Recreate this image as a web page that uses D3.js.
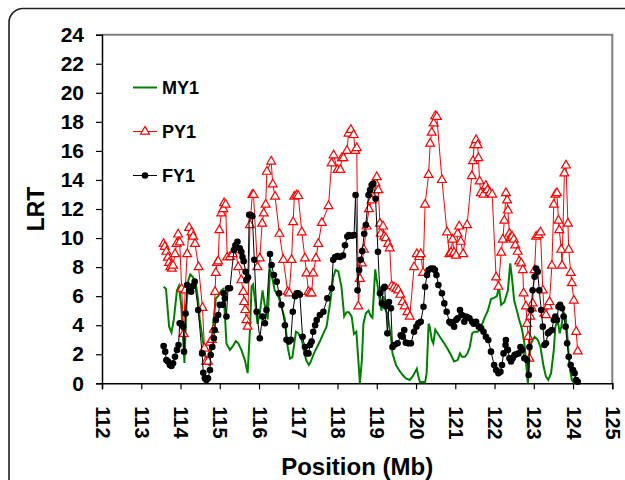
<!DOCTYPE html>
<html>
<head>
<meta charset="utf-8">
<script src="https://cdn.jsdelivr.net/npm/d3@7"></script>
<style>
  body { margin: 0; background: #fff; }
  svg { font-family: "Liberation Sans", Arial, sans-serif; font-weight: bold; }
</style>
</head>
<body>
<div id="chart"></div>
<script>
// MY1 (green line) - position Mb, LRT
var myPos = [113.57,113.63,113.71,113.77,113.83,113.91,113.96,114.02,114.06,114.1,114.15,114.2,114.25,114.32,114.39,114.45,114.49,114.58,114.62,114.66,114.72,114.8,114.9,114.96,115.04,115.09,115.13,115.17,115.26,115.32,115.41,115.47,115.55,115.64,115.71,115.77,115.81,115.85,115.9,115.96,116.02,116.09,116.15,116.22,116.28,116.35,116.4,116.49,116.57,116.66,116.73,116.79,116.85,116.9,116.94,117.0,117.09,117.13,117.2,117.27,117.32,117.4,117.48,117.57,117.64,117.72,117.81,117.89,117.95,118.02,118.1,118.17,118.23,118.29,118.36,118.42,118.48,118.53,118.57,118.62,118.66,118.72,118.79,118.85,118.89,118.93,118.96,119.0,119.06,119.12,119.17,119.23,119.27,119.31,119.36,119.4,119.49,119.57,119.66,119.74,119.84,119.91,119.98,120.02,120.06,120.1,120.17,120.23,120.27,120.32,120.35,120.4,120.44,120.49,120.55,120.63,120.72,120.8,120.89,120.97,121.06,121.12,121.17,121.25,121.31,121.37,121.43,121.49,121.57,121.66,121.74,121.83,121.91,122.0,122.06,122.11,122.17,122.25,122.34,122.4,122.45,122.5,122.57,122.63,122.7,122.76,122.8,122.85,122.89,122.93,123.02,123.1,123.17,123.25,123.31,123.37,123.44,123.51,123.55,123.61,123.66,123.7,123.76,123.81,123.85,123.91,123.97,124.04];
var myLrt = [6.65,6.5,3.9,3.5,4.4,6.4,6.7,5.3,3.4,1.4,5.3,7.1,7.5,7.3,6.9,5.7,4.4,2.75,2.1,1.5,1.3,3.2,5.85,6.0,6.4,6.5,4.8,2.75,2.3,2.5,2.9,2.75,2.3,1.6,0.7,3.7,6.65,6.8,5.7,4.1,4.8,6.4,5.3,4.4,7.9,7.1,6.4,6.0,5.3,4.4,2.5,1.7,1.8,2.75,3.55,3.45,3.0,2.5,1.6,1.26,1.5,2.06,2.5,3.0,3.44,3.9,5.5,7.3,7.8,7.7,6.65,4.6,4.9,4.9,4.6,3.4,3.55,1.6,0.0,1.6,4.1,4.8,5.0,4.6,4.5,6.4,7.85,7.1,6.0,5.0,6.0,5.0,4.8,4.1,3.2,2.06,1.26,0.9,0.57,0.34,0.23,0.46,0.8,1.0,0.46,0.07,0.1,0.05,0.7,4.1,3.9,3.0,2.75,3.7,3.44,3.1,2.75,2.4,1.95,1.5,1.6,2.06,1.83,1.83,2.06,2.5,3.44,3.55,3.55,3.9,4.47,5.0,5.8,5.9,6.0,6.65,5.4,5.6,6.4,8.26,7.1,5.7,5.0,4.36,3.7,2.75,1.5,0.0,1.83,2.75,3.2,3.0,2.5,1.15,0.46,0.23,0.7,2.3,3.9,4.36,3.44,3.9,4.9,4.6,3.44,1.15,0.23,0.0];

// PY1 (red triangles)
var pyPos = [113.57,113.6,113.64,113.68,113.71,113.74,113.78,113.81,113.86,113.9,113.94,113.98,114.03,114.08,114.12,114.17,114.22,114.28,114.32,114.37,114.46,114.56,114.61,114.65,114.7,114.75,114.8,114.85,114.88,114.9,114.93,114.96,114.99,115.04,115.09,115.11,115.15,115.19,115.26,115.33,115.4,115.47,115.55,115.6,115.62,115.65,115.68,115.71,115.77,115.83,115.86,115.96,116.02,116.08,116.12,116.17,116.2,116.31,116.35,116.41,116.52,116.62,116.73,116.77,116.83,116.87,116.9,116.96,117.0,117.09,117.17,117.21,117.26,117.3,117.34,117.38,117.45,117.51,117.6,117.77,117.85,117.9,118.0,118.07,118.11,118.15,118.24,118.28,118.34,118.41,118.45,118.49,118.53,118.57,118.62,118.67,118.74,118.8,118.87,118.93,118.97,119.0,119.04,119.08,119.1,119.16,119.19,119.23,119.29,119.33,119.38,119.44,119.5,119.55,119.6,119.66,119.71,119.78,119.84,119.95,120.02,120.08,120.12,120.18,120.23,120.32,120.36,120.4,120.45,120.49,120.53,120.66,120.79,120.85,120.89,120.93,120.97,121.02,121.06,121.1,121.14,121.2,121.3,121.42,121.45,121.48,121.53,121.57,121.59,121.62,121.65,121.72,121.78,121.82,121.88,121.94,122.04,122.1,122.17,122.21,122.25,122.29,122.32,122.34,122.38,122.4,122.45,122.49,122.53,122.59,122.63,122.68,122.72,122.74,122.8,122.83,122.86,122.89,122.91,122.95,122.97,123.02,123.06,123.12,123.17,123.23,123.27,123.31,123.36,123.4,123.46,123.51,123.55,123.59,123.63,123.65,123.7,123.72,123.78,123.82,123.87,123.89,123.94,123.97,124.02,124.08,124.12];
var pyLrt = [9.6,9.4,9.06,8.65,8.3,8.0,7.9,8.1,8.9,9.6,10.25,9.7,6.5,3.4,6.4,8.9,10.7,10.4,10.1,9.6,8.0,5.2,2.4,1.5,1.5,2.8,3.0,3.7,6.3,7.6,8.3,8.4,10.55,11.7,12.0,12.4,12.3,8.67,8.7,8.9,9.2,8.0,7.1,6.3,5.6,5.05,4.36,3.9,10.9,12.97,12.97,8.0,8.6,11.0,11.7,12.3,14.57,15.27,13.7,12.85,10.3,8.5,6.3,6.2,8.5,11.1,12.85,12.95,12.9,10.4,8.6,7.57,6.3,6.2,6.2,7.57,8.6,9.6,11.05,12.2,15.15,15.7,14.7,14.7,15.5,15.5,16.0,17.2,17.45,17.1,16.0,16.2,5.3,7.2,8.26,9.2,10.8,12.0,12.6,13.3,13.76,14.2,13.3,11.0,10.3,10.8,10.1,10.0,9.6,9.3,6.7,6.6,6.5,6.4,6.1,5.6,5.3,4.9,4.6,8.0,8.9,8.7,8.9,7.6,12.3,14.35,16.5,17.26,17.9,18.4,18.35,14.0,10.4,8.9,9.0,9.9,9.0,8.8,10.3,10.8,9.75,8.9,10.9,14.27,15.3,16.4,16.75,16.4,15.5,13.9,13.1,13.0,13.6,13.3,13.1,13.0,7.3,6.65,9.0,9.9,11.2,13.1,12.6,11.9,10.3,10.0,10.1,9.9,9.5,9.06,8.4,8.26,7.8,6.2,5.3,4.1,3.2,1.7,4.6,5.16,5.5,7.8,10.1,10.2,10.4,6.4,4.8,4.7,5.3,5.6,8.1,12.3,13.0,13.1,11.2,10.55,9.2,8.1,14.46,15.0,11.0,9.2,7.6,6.9,5.7,3.55,2.2];

// FY1 (black dots)
var fyPos = [113.57,113.61,113.64,113.68,113.73,113.77,113.81,113.86,113.91,113.95,113.98,114.02,114.07,114.09,114.13,114.17,114.22,114.27,114.32,114.36,114.45,114.55,114.58,114.62,114.66,114.7,114.75,114.77,114.81,114.85,114.87,114.9,114.96,115.0,115.07,115.1,115.13,115.17,115.21,115.26,115.36,115.4,115.45,115.51,115.55,115.58,115.61,115.66,115.68,115.72,115.75,115.78,115.83,115.88,115.94,116.02,116.09,116.15,116.19,116.28,116.32,116.38,116.45,116.51,116.57,116.66,116.7,116.76,116.81,116.86,116.92,116.96,117.0,117.04,117.11,117.17,117.21,117.26,117.3,117.34,117.38,117.43,117.47,117.55,117.64,117.74,117.85,117.89,117.94,118.0,118.06,118.14,118.19,118.25,118.29,118.36,118.42,118.46,118.51,118.55,118.59,118.63,118.68,118.72,118.79,118.83,118.87,118.91,118.97,119.03,119.08,119.13,119.17,119.2,119.23,119.27,119.31,119.36,119.4,119.44,119.53,119.61,119.66,119.7,119.74,119.8,119.87,119.95,120.01,120.06,120.12,120.19,120.23,120.28,120.32,120.38,120.44,120.48,120.52,120.57,120.66,120.72,120.78,120.85,120.89,120.93,120.97,121.02,121.06,121.12,121.17,121.23,121.27,121.31,121.36,121.43,121.47,121.53,121.6,121.66,121.72,121.78,121.84,121.91,121.99,122.04,122.1,122.15,122.19,122.23,122.28,122.29,122.34,122.38,122.42,122.46,122.51,122.55,122.61,122.66,122.7,122.76,122.83,122.87,122.89,122.93,122.97,123.02,123.06,123.1,123.14,123.19,123.23,123.27,123.31,123.36,123.4,123.46,123.51,123.55,123.59,123.63,123.67,123.72,123.76,123.81,123.85,123.89,123.94,124.0,124.04,124.08,124.12];
var fyLrt = [2.57,2.18,1.6,1.5,1.26,1.19,1.38,1.83,2.3,2.64,4.13,4.1,3.9,2.18,4.8,6.77,6.4,6.3,6.7,7.0,5.05,2.06,0.73,0.34,0.23,0.34,0.92,1.95,2.5,3.1,3.67,4.36,4.7,5.4,5.4,6.2,5.85,4.6,6.54,6.54,9.17,9.5,9.75,9.3,9.06,8.7,8.4,7.68,7.1,7.3,11.6,11.6,11.5,8.5,4.93,3.1,4.6,4.13,5.05,8.9,8.14,7.45,7.0,6.2,5.4,4.0,3.0,2.87,3.0,4.93,6.0,6.2,6.2,6.1,3.2,2.5,2.06,2.06,2.64,2.87,3.55,4.0,4.36,4.7,4.93,5.85,6.54,8.5,8.7,8.76,8.7,8.8,9.5,10.1,10.2,10.16,10.2,12.96,6.4,7.8,8.5,9.1,10.3,10.9,12.96,13.3,13.65,13.76,12.7,9.06,6.2,5.5,6.54,6.65,5.3,3.44,5.6,5.16,2.5,2.64,2.75,3.3,3.2,3.67,2.8,2.75,2.75,3.55,3.9,4.13,4.24,5.27,6.65,7.45,7.8,7.9,7.9,7.8,7.45,6.77,6.2,5.5,4.93,4.24,4.13,4.2,3.9,4.36,4.47,5.05,4.7,4.24,4.6,4.55,4.47,4.24,4.1,4.24,3.9,3.78,3.55,3.2,2.98,2.18,1.26,0.92,0.69,0.8,1.26,2.06,2.64,2.98,2.3,1.72,1.5,1.72,1.95,2.0,2.06,2.5,2.3,1.72,1.6,0.57,2.5,5.05,6.4,7.34,7.9,7.68,6.4,5.05,3.9,2.64,2.75,3.44,3.55,3.67,4.36,4.6,4.36,5.27,5.4,5.16,4.6,3.9,2.75,1.83,1.26,0.92,0.69,0.23,0.11];

var xTicks = d3.range(112, 126, 1);
var yTicks = d3.range(0, 26, 2);
var seriesNames = ["MY1", "PY1", "FY1"];

var width = 625, height = 480;
var margin = {top: 34.7, right: 12.7, bottom: 96.7, left: 102};

var svg = d3.select("#chart").append("svg")
    .attr("width", width)
    .attr("height", height);

// outer rounded frame
svg.append("rect")
    .attr("x", 9).attr("y", 8.5)
    .attr("width", 660).attr("height", 520)
    .attr("rx", 14)
    .attr("fill", "none")
    .attr("stroke", "#222")
    .attr("stroke-width", 1.6);

var x = d3.scaleLinear().domain([112, 125]).range([margin.left, width - margin.right]);
var y = d3.scaleLinear().domain([0, 24]).range([height - margin.bottom, margin.top]);

// plot border (top/right grey)
svg.append("path")
    .attr("d", "M" + x(112) + "," + y(24) + "H" + x(125) + "V" + y(0))
    .attr("fill", "none")
    .attr("stroke", "#7f7f7f")
    .attr("stroke-width", 2);

var yAxis = svg.append("g")
    .attr("transform", "translate(" + x(112) + ",0)")
    .call(d3.axisLeft(y).tickValues(yTicks).tickSize(6).tickPadding(12).tickFormat(d3.format("d")));
yAxis.selectAll("text").attr("font-size", 21).attr("font-weight", "bold").attr("fill", "#000");

var xAxis = svg.append("g")
    .attr("transform", "translate(0," + y(0) + ")")
    .call(d3.axisBottom(x).tickValues(xTicks).tickSize(6).tickFormat(d3.format("d")));
xAxis.selectAll("text")
    .attr("font-size", 20).attr("font-weight", "bold").attr("fill", "#000")
    .attr("transform", "rotate(90)")
    .attr("x", 23).attr("y", 0).attr("dy", "0.35em")
    .style("text-anchor", "start");

[yAxis, xAxis].forEach(function(a) {
    a.select(".domain").attr("stroke", "#000").attr("stroke-width", 1.5);
    a.selectAll(".tick line").attr("stroke", "#000").attr("stroke-width", 1.2);
});

svg.append("text")
    .attr("transform", "translate(44," + ((y(0) + y(24)) / 2) + ") rotate(-90)")
    .attr("text-anchor", "middle")
    .attr("font-size", 23)
    .text("LRT");

svg.append("text")
    .attr("x", (x(112) + x(125)) / 2)
    .attr("y", 475)
    .attr("text-anchor", "middle")
    .attr("font-size", 24)
    .text("Position (Mb)");

function zip(p, v) { return p.map(function(d, i) { return [d, v[i]]; }); }

var line = d3.line()
    .x(function(d) { return x(d[0]); })
    .y(function(d) { return y(d[1]); });

var tri = d3.symbol().type(d3.symbolTriangle).size(34);

// MY1
svg.append("path")
    .datum(zip(myPos, myLrt))
    .attr("d", line)
    .attr("fill", "none")
    .attr("stroke", "#008000")
    .attr("stroke-width", 2);

// PY1
var py = zip(pyPos, pyLrt);
svg.append("path")
    .datum(py)
    .attr("d", line)
    .attr("fill", "none")
    .attr("stroke", "#ff0000")
    .attr("stroke-width", 1);
svg.append("g").selectAll("path")
    .data(py)
    .enter().append("path")
    .attr("d", tri)
    .attr("transform", function(d) { return "translate(" + x(d[0]) + "," + y(d[1]) + ")"; })
    .attr("fill", "#fff")
    .attr("stroke", "#ff0000")
    .attr("stroke-width", 1.2);

// FY1
var fy = zip(fyPos, fyLrt);
svg.append("path")
    .datum(fy)
    .attr("d", line)
    .attr("fill", "none")
    .attr("stroke", "#000")
    .attr("stroke-width", 1);
svg.append("g").selectAll("circle")
    .data(fy)
    .enter().append("circle")
    .attr("cx", function(d) { return x(d[0]); })
    .attr("cy", function(d) { return y(d[1]); })
    .attr("r", 3.3)
    .attr("fill", "#000");

// legend
var legendY = [87.5, 131.5, 175.5];
var legend = svg.append("g").selectAll("g")
    .data(seriesNames)
    .enter().append("g")
    .attr("transform", function(d, i) { return "translate(133," + legendY[i] + ")"; });

legend.append("line")
    .attr("x1", 0).attr("x2", 24)
    .attr("stroke", function(d, i) { return ["#008000", "#ff0000", "#000"][i]; })
    .attr("stroke-width", function(d, i) { return i == 0 ? 2 : 1; });
legend.filter(function(d, i) { return i == 1; }).append("path")
    .attr("d", tri)
    .attr("transform", "translate(12,0)")
    .attr("fill", "#fff").attr("stroke", "#ff0000").attr("stroke-width", 1.2);
legend.filter(function(d, i) { return i == 2; }).append("circle")
    .attr("cx", 12).attr("r", 3.3).attr("fill", "#000");
legend.append("text")
    .attr("x", 29).attr("dy", "0.35em")
    .attr("font-size", 18)
    .text(function(d) { return d; });
</script>
</body>
</html>
